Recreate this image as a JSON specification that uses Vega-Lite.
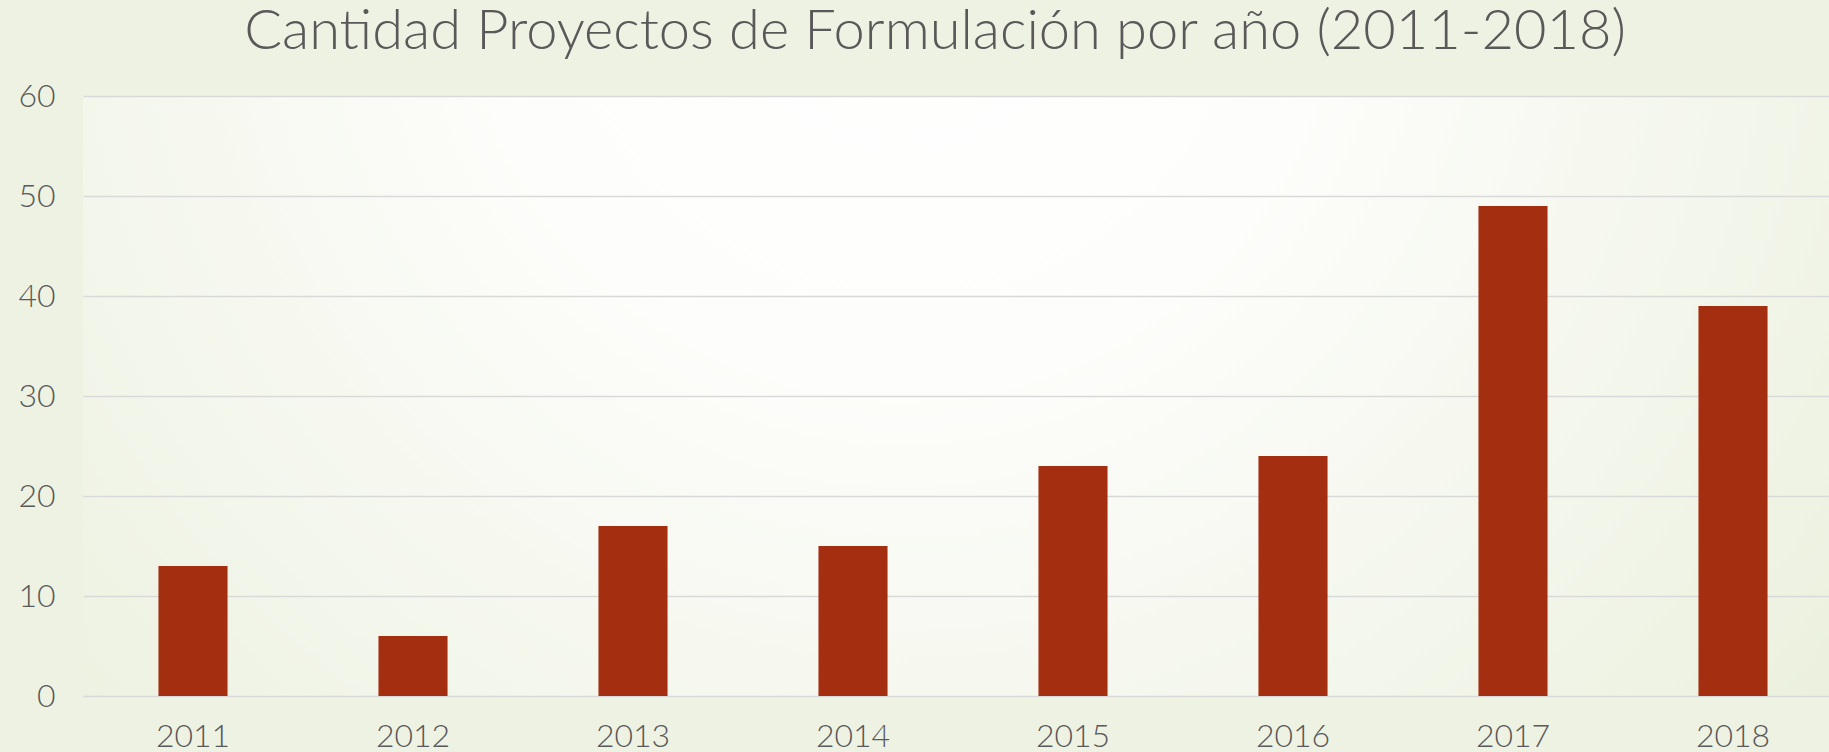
{
  "$schema": "https://vega.github.io/schema/vega-lite/v6.json",
  "width": 1746,
  "height": 600,
  "autosize": {"type": "none"},
  "padding": {"left": 83, "top": 96, "right": 0, "bottom": 56},
  "background": "#eef2e3",
  "config": {
    "view": {
      "stroke": null,
      "fill": {
        "gradient": "radial",
        "x1": 0.47, "y1": 0.25, "r1": 0,
        "x2": 0.47, "y2": 0.25, "r2": 0.8,
        "stops": [
          {"offset": 0, "color": "#ffffff"},
          {"offset": 0.3, "color": "#fdfdfb"},
          {"offset": 1, "color": "#e6edd6"}
        ]
      }
    },
    "font": "Lato"
  },
  "title": {
    "text": "Cantidad Proyectos de Formulación por año (2011-2018)",
    "fontSize": 56,
    "fontWeight": 300,
    "color": "#595959",
    "anchor": "middle",
    "frame": "group",
    "baseline": "alphabetic",
    "offset": 30,
    "dy": 55,
    "dx": -21
  },
  "data": {
    "values": [
      {"year": "2011", "count": 13},
      {"year": "2012", "count": 6},
      {"year": "2013", "count": 17},
      {"year": "2014", "count": 15},
      {"year": "2015", "count": 23},
      {"year": "2016", "count": 24},
      {"year": "2017", "count": 49},
      {"year": "2018", "count": 39}
    ]
  },
  "mark": {"type": "bar", "color": "#a42e10"},
  "encoding": {
    "x": {
      "field": "year",
      "type": "ordinal",
      "sort": null,
      "scale": {"range": [0, 1760], "paddingInner": 0.686, "paddingOuter": 0.343},
      "axis": {
        "title": null,
        "domain": false,
        "ticks": false,
        "grid": false,
        "labelAngle": 0,
        "labelFontSize": 32,
        "labelFontWeight": 300,
        "labelColor": "#595959",
        "labelPadding": 25
      }
    },
    "y": {
      "field": "count",
      "type": "quantitative",
      "scale": {"domain": [0, 60]},
      "axis": {
        "title": null,
        "values": [0, 10, 20, 30, 40, 50, 60],
        "domain": false,
        "ticks": false,
        "grid": true,
        "gridColor": "#d9d9d9",
        "gridWidth": 1.5,
        "labelFontSize": 32,
        "labelFontWeight": 300,
        "labelColor": "#595959",
        "labelPadding": 28
      }
    }
  }
}
